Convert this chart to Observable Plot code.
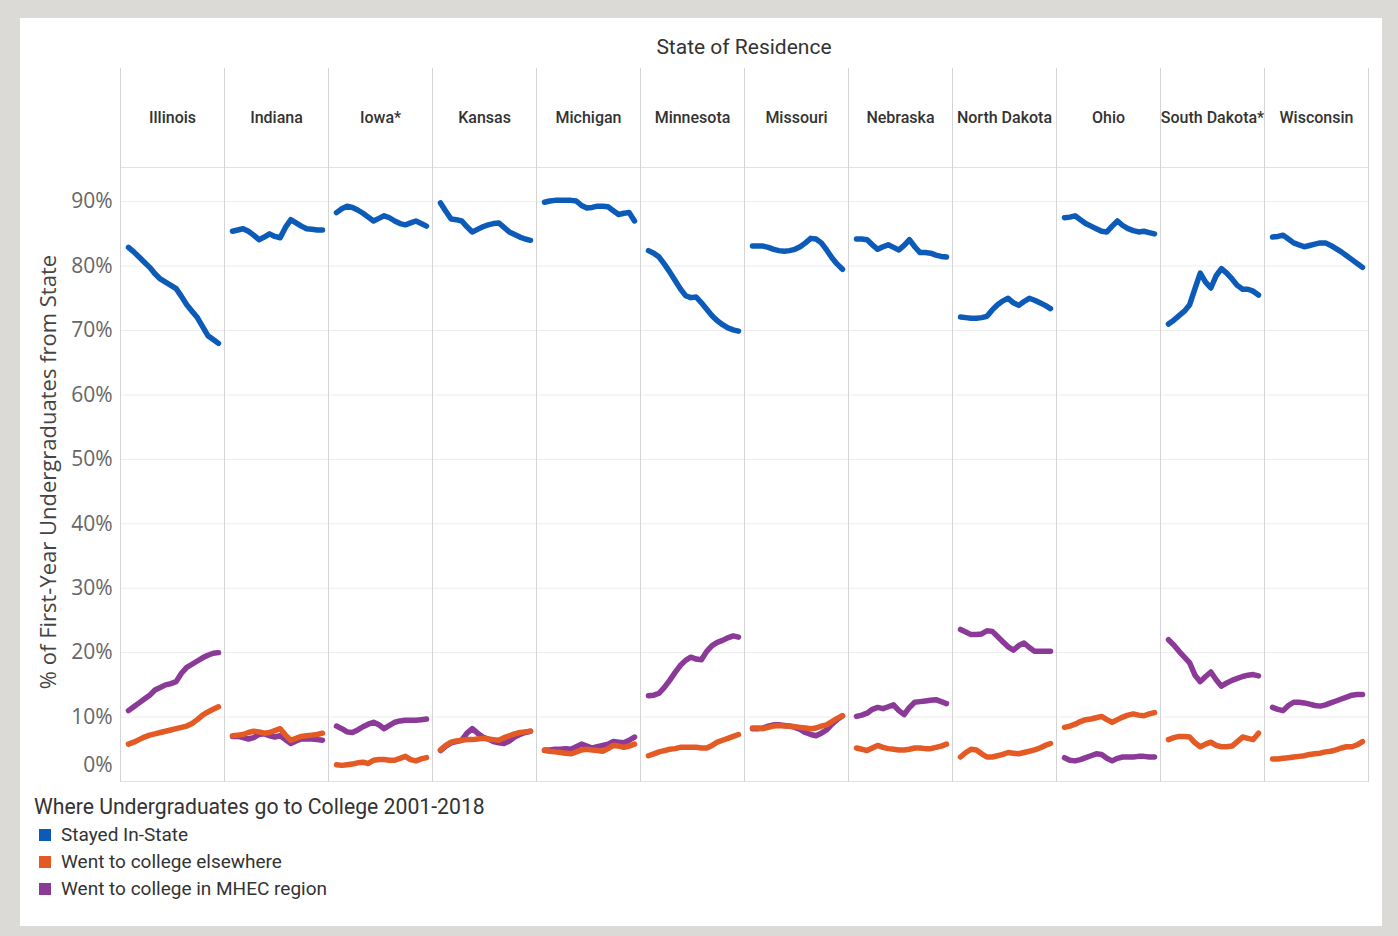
<!DOCTYPE html>
<html>
<head>
<meta charset="utf-8">
<script src="https://cdn.jsdelivr.net/npm/d3@7"></script>
<script src="https://cdn.jsdelivr.net/npm/@observablehq/plot@0.6"></script>
<style>
  html, body { margin: 0; padding: 0; background: #dcdad6; width: 1398px; height: 936px; overflow: hidden; }
  #card { position: absolute; left: 20px; top: 18px; width: 1362px; height: 908px; background: #fff; }
  #chart { position: absolute; left: 0; top: 0; }
  .cond { font-family: Roboto, "Noto Sans", sans-serif; color: #333; }
  #title { position: absolute; left: 544px; width: 400px; top: 35px; text-align: center; font-size: 21px; }
  #ylabel { position: absolute; left: 47px; top: 472px; transform: translate(-50%, -50%) rotate(-90deg); white-space: nowrap;
            font-family: "Open Sans", "Noto Sans", sans-serif; font-size: 22px; color: #444; }
  #legend { position: absolute; left: 34px; top: 793px; }
  #legend .lt { font-size: 21.2px; line-height: 28px; }
  #legend .item { display: flex; align-items: center; height: 27px; font-size: 19px; margin-left: 5px; }
  #legend .sw { width: 12px; height: 12px; margin-right: 10px; }
</style>
</head>
<body>
<div id="card"></div>
<div id="chart"></div>
<div id="title" class="cond">State of Residence</div>
<div id="ylabel">% of First-Year Undergraduates from State</div>
<div id="legend" class="cond"></div>
<script>
const states = ["Illinois","Indiana","Iowa*","Kansas","Michigan","Minnesota","Missouri","Nebraska","North Dakota","Ohio","South Dakota*","Wisconsin"];
const years = [2001,2002,2003,2004,2005,2006,2007,2008,2009,2010,2011,2012,2013,2014,2015,2016,2017,2018];
const seriesNames = ["Stayed In-State","Went to college elsewhere","Went to college in MHEC region"];
const seriesColors = ["#0d5bb8","#e45a25","#8b3a97"];
const legendTitle = "Where Undergraduates go to College 2001-2018";
const yTicks = [0,10,20,30,40,50,60,70,80,90];

// Stayed In-State (%), one row per state in the order of `states`
const stayedInState = [
  [82.9,82.2,81.4,80.6,79.8,78.8,78.0,77.5,77.0,76.5,75.3,74.0,73.0,72.0,70.6,69.2,68.6,68.0],
  [85.4,85.6,85.8,85.4,84.8,84.1,84.5,85.0,84.6,84.4,86.0,87.2,86.7,86.2,85.8,85.7,85.6,85.6],
  [88.3,88.9,89.3,89.1,88.7,88.2,87.6,87.0,87.4,87.8,87.5,87.0,86.6,86.4,86.7,87.0,86.6,86.2],
  [89.8,88.5,87.3,87.2,87.0,86.1,85.3,85.7,86.1,86.4,86.6,86.7,86.0,85.3,84.9,84.5,84.2,84.0],
  [89.9,90.1,90.2,90.2,90.2,90.2,90.1,89.4,89.0,89.1,89.3,89.3,89.2,88.6,88.0,88.2,88.3,87.0],
  [82.4,82.0,81.4,80.3,79.1,77.8,76.5,75.4,75.1,75.2,74.3,73.3,72.3,71.5,70.9,70.4,70.1,69.9],
  [83.1,83.1,83.1,82.9,82.6,82.4,82.3,82.4,82.6,83.0,83.6,84.3,84.2,83.6,82.5,81.3,80.3,79.5],
  [84.2,84.2,84.1,83.3,82.6,83.0,83.3,82.9,82.5,83.2,84.1,83.0,82.1,82.1,82.0,81.7,81.5,81.4],
  [72.1,72.0,71.9,71.9,72.0,72.2,73.2,74.0,74.6,75.0,74.3,73.9,74.5,75.0,74.7,74.3,73.9,73.4],
  [87.5,87.6,87.8,87.2,86.6,86.2,85.8,85.4,85.3,86.2,87.0,86.3,85.8,85.5,85.3,85.4,85.2,85.0],
  [71.0,71.6,72.3,73.0,74.0,76.5,78.9,77.5,76.6,78.5,79.6,78.9,78.0,77.0,76.4,76.4,76.1,75.5],
  [84.5,84.6,84.8,84.2,83.6,83.3,83.0,83.2,83.4,83.6,83.6,83.2,82.7,82.2,81.6,81.0,80.4,79.8]
];
// Went to college elsewhere (%)
const wentElsewhere = [
  [5.8,6.1,6.5,6.9,7.2,7.4,7.6,7.8,8.0,8.2,8.4,8.6,9.0,9.6,10.3,10.8,11.2,11.6],
  [7.1,7.2,7.3,7.6,7.8,7.7,7.5,7.6,7.9,8.2,7.2,6.4,6.7,7.0,7.1,7.2,7.3,7.5],
  [2.6,2.5,2.6,2.7,2.9,3.0,2.8,3.3,3.4,3.4,3.3,3.3,3.6,3.9,3.4,3.2,3.5,3.7],
  [4.9,5.6,6.1,6.3,6.4,6.5,6.5,6.6,6.7,6.6,6.5,6.4,6.8,7.1,7.4,7.6,7.7,7.8],
  [4.8,4.7,4.6,4.5,4.4,4.3,4.6,4.9,5.0,4.9,4.8,4.7,5.1,5.6,5.5,5.3,5.5,5.8],
  [4.0,4.3,4.6,4.8,5.0,5.1,5.3,5.3,5.3,5.3,5.2,5.2,5.6,6.1,6.4,6.7,7.0,7.3],
  [8.3,8.3,8.2,8.4,8.6,8.7,8.6,8.6,8.5,8.4,8.3,8.2,8.3,8.6,8.8,9.3,9.8,10.2],
  [5.2,5.0,4.8,5.2,5.6,5.3,5.1,5.0,4.9,4.9,5.0,5.2,5.2,5.1,5.1,5.3,5.5,5.8],
  [3.8,4.5,5.0,4.9,4.3,3.8,3.8,4.0,4.2,4.5,4.4,4.3,4.5,4.7,4.9,5.2,5.6,5.9],
  [8.4,8.6,8.9,9.3,9.6,9.7,9.9,10.1,9.6,9.2,9.6,10.0,10.3,10.5,10.3,10.2,10.5,10.7],
  [6.5,6.8,7.0,7.0,6.9,6.0,5.4,5.8,6.1,5.6,5.4,5.4,5.5,6.2,6.9,6.7,6.5,7.5],
  [3.5,3.5,3.6,3.7,3.8,3.9,4.0,4.2,4.3,4.4,4.6,4.7,4.9,5.2,5.4,5.4,5.7,6.2]
];
// Went to college in MHEC region (%)
const wentMHEC = [
  [11.0,11.6,12.2,12.8,13.4,14.2,14.6,15.0,15.2,15.5,16.8,17.7,18.2,18.7,19.2,19.6,19.9,20.0],
  [7.0,7.0,6.8,6.6,6.8,7.3,7.4,7.1,6.9,7.1,6.5,5.9,6.3,6.6,6.6,6.6,6.5,6.4],
  [8.6,8.2,7.7,7.6,8.0,8.5,8.9,9.2,8.8,8.2,8.7,9.2,9.4,9.5,9.5,9.5,9.6,9.7],
  [4.8,5.5,6.0,6.2,6.4,7.5,8.2,7.5,6.9,6.6,6.2,6.0,5.9,6.3,6.9,7.3,7.6,7.8],
  [4.9,4.9,5.0,5.0,5.1,5.0,5.4,5.8,5.5,5.2,5.4,5.6,5.8,6.2,6.1,6.0,6.4,6.9],
  [13.3,13.4,13.7,14.6,15.7,16.9,18.0,18.8,19.3,19.0,18.9,20.2,21.1,21.6,21.9,22.3,22.6,22.4],
  [8.2,8.2,8.3,8.6,8.8,8.8,8.7,8.6,8.4,8.1,7.6,7.3,7.1,7.5,8.0,8.9,9.6,10.2],
  [10.1,10.3,10.6,11.2,11.5,11.3,11.6,11.9,11.0,10.4,11.5,12.3,12.4,12.5,12.6,12.7,12.4,12.1],
  [23.6,23.2,22.8,22.8,22.9,23.4,23.3,22.5,21.7,20.9,20.4,21.1,21.5,20.8,20.2,20.2,20.2,20.2],
  [3.7,3.3,3.2,3.4,3.7,4.0,4.3,4.2,3.6,3.2,3.6,3.8,3.8,3.8,3.9,3.9,3.8,3.8],
  [22.0,21.2,20.2,19.3,18.4,16.5,15.5,16.3,17.0,15.8,14.8,15.3,15.7,16.0,16.3,16.5,16.6,16.4],
  [11.5,11.2,11.0,11.8,12.3,12.3,12.2,12.0,11.8,11.7,11.9,12.2,12.5,12.8,13.1,13.4,13.5,13.5]
];

const seriesValues = [stayedInState, wentElsewhere, wentMHEC];
const drawOrder = [0, 2, 1];
const data = [];
drawOrder.forEach(k => {
  states.forEach((s, si) => {
    years.forEach((yr, yi) => {
      data.push({state: s, year: yr, series: seriesNames[k], value: seriesValues[k][si][yi]});
    });
  });
});

const condFont = 'Roboto, "Noto Sans", sans-serif';
const axisFont = '"Open Sans", "Noto Sans", sans-serif';

const chart = Plot.plot({
  width: 1398,
  height: 936,
  marginLeft: 118,
  marginRight: 28,
  marginTop: 68,
  marginBottom: 155,
  style: {background: "transparent", overflow: "visible"},
  fx: {domain: states, padding: 0, axis: null},
  x: {domain: [years[0], years[years.length - 1]], insetLeft: 8, insetRight: 6, axis: null},
  y: {domain: [0, 95.3], insetTop: 99, axis: null},
  color: {domain: seriesNames, range: seriesColors},
  marks: [
    Plot.gridY(yTicks.filter(t => t > 0), {stroke: "#ececec", strokeOpacity: 1}),
    Plot.frame({anchor: "top", insetTop: 99, stroke: "#e2e2e2"}),
    Plot.frame({anchor: "bottom", stroke: "#e2e2e2"}),
    Plot.frame({anchor: "left", stroke: "#d4d4d4"}),
    Plot.frame({anchor: "right", stroke: "#d4d4d4"}),
    Plot.line(data, {
      fx: "state", x: "year", y: "value", z: "series", stroke: "series",
      strokeWidth: 5.5, strokeLinecap: "round", strokeLinejoin: "round"
    }),
    Plot.text(states, {
      fx: d => d, text: d => d, frameAnchor: "top", lineAnchor: "middle", dy: 49,
      fontFamily: condFont, fontSize: 16, fontWeight: 500, fill: "#333"
    }),
    Plot.axisY(yTicks.filter(t => t > 0), {
      label: null, tickSize: 0, tickPadding: 8, tickFormat: d => d + "%",
      fontFamily: axisFont, fontSize: 21, fill: "#666"
    }),
    Plot.axisY([0], {
      label: null, tickSize: 0, tickPadding: 8, tickFormat: d => d + "%", dy: -16,
      fontFamily: axisFont, fontSize: 21, fill: "#666"
    })
  ]
});
document.getElementById("chart").appendChild(chart);

const legend = document.getElementById("legend");
const lt = document.createElement("div");
lt.className = "lt";
lt.textContent = legendTitle;
legend.appendChild(lt);
seriesNames.forEach((name, i) => {
  const item = document.createElement("div");
  item.className = "item";
  const sw = document.createElement("span");
  sw.className = "sw";
  sw.style.background = seriesColors[i];
  const tx = document.createElement("span");
  tx.textContent = name;
  item.appendChild(sw);
  item.appendChild(tx);
  legend.appendChild(item);
});
</script>
</body>
</html>
